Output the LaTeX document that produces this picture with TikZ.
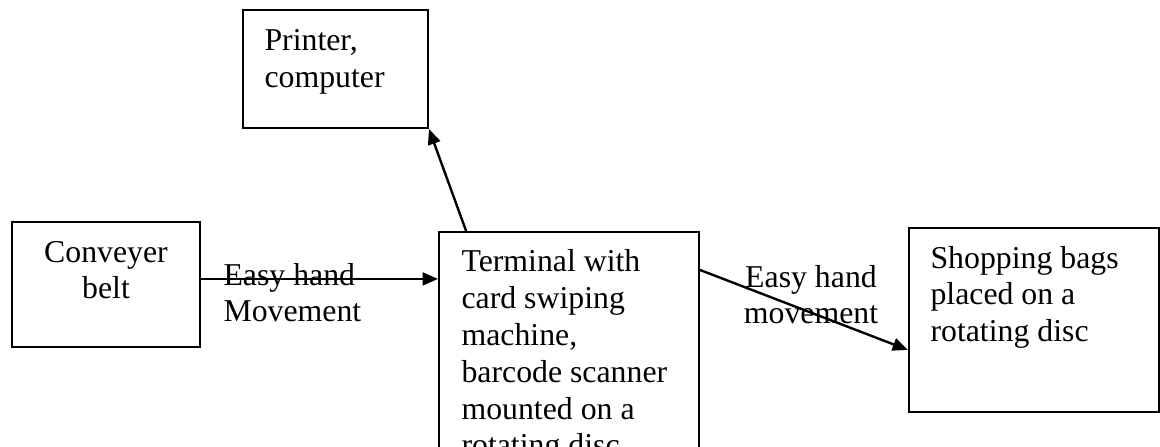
\documentclass[tikz,border=0pt]{standalone}
\usepackage{fontspec}
\setmainfont{Liberation Serif}
\usetikzlibrary{arrows.meta}
\begin{document}
\begin{tikzpicture}[x=0.3774pt, y=-0.3774pt,
  box/.style={draw, line width=0.75pt, rectangle, inner sep=0pt},
  txt/.style={inner sep=0pt, font=\fontsize{12}{13.87}\selectfont},
  arr/.style={line width=0.9pt, -{Triangle[length=5.8pt,width=4.8pt]}}]
  \useasboundingbox (0,0) rectangle (1160,446);
  \clip (0,0) rectangle (1160,446);
  \fill[white] (0,0) rectangle (1160,446);

  % boxes
  \node[box, minimum width=69.8pt, minimum height=44.5pt] (printer) at (335.5,69) {};
  \node[box, minimum width=70.95pt, minimum height=47.2pt] (conv) at (106,284.5) {};
  \node[box, minimum width=98.1pt, minimum height=93.6pt] (term) at (569,356) {};
  \node[box, minimum width=94.35pt, minimum height=69.4pt] (shop) at (1034,320) {};

  % box texts (base anchor sits on the last line)
  \node[txt, anchor=base west, align=left] (printertxt) at (264,87.75) {Printer,\\computer};
  \node[txt, anchor=base, align=center] (convtxt) at (106,298.75) {Conveyer\\belt};
  \node[txt, anchor=base west, align=left] (termtxt) at (461,455.75)
    {Terminal with\\card swiping\\machine,\\barcode scanner\\mounted on a\\rotating disc};
  \node[txt, anchor=base west, align=left] (shoptxt) at (930,341.5)
    {Shopping bags\\placed on a\\rotating disc};

  % connector labels
  \node[txt, anchor=base west, align=left] (lblA) at (223,321.75) {Easy hand\\Movement};
  \node[txt, anchor=base, align=center] (lblB) at (811,323.75) {Easy hand\\movement};

  % connectors
  \coordinate (convout) at ([yshift=2.1pt]conv.east);
  \coordinate (termin) at (convout -| term.west);
  \draw[arr] (convout) -- (termin);
  \draw[arr] ([xshift=10.6pt]term.north west) -- (printer.south east);
  \draw[arr] ([yshift=-14.7pt]term.north east) -- ([yshift=-11.3pt]shop.west);
\end{tikzpicture}
\end{document}
